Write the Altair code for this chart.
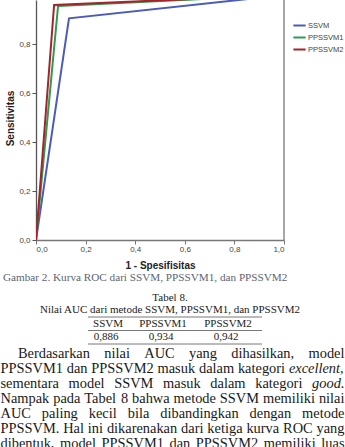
import altair as alt
import pandas as pd

# ---------------- data ----------------
models = ["SSVM", "PPSSVM1", "PPSSVM2"]
fpr_ssvm = [0.0, 0.133, 1.0]
tpr_ssvm = [0.0, 0.905, 1.0]
fpr_pp1 = [0.0, 0.089, 1.0]
tpr_pp1 = [0.0, 0.956, 1.0]
fpr_pp2 = [0.0, 0.073, 1.0]
tpr_pp2 = [0.0, 0.960, 1.0]
colors = ["#4a5bb8", "#2f9a50", "#a3242b"]

x_ticks = [0.0, 0.2, 0.4, 0.6, 0.8, 1.0]
y_ticks = [0.0, 0.2, 0.4, 0.6, 0.8]

caption = "Gambar 2. Kurva ROC dari SSVM, PPSSVM1, dan PPSSVM2"
table_label = "Tabel 8."
table_title = "Nilai AUC dari metode SSVM, PPSSVM1, dan PPSSVM2"
table_headers = ["SSVM", "PPSSVM1", "PPSSVM2"]
table_values = ["0,886", "0,934", "0,942"]
paragraph_lines = [
    "Berdasarkan nilai AUC yang dihasilkan, model",
    "PPSSVM1 dan PPSSVM2 masuk dalam kategori excellent,",
    "sementara model SSVM masuk dalam kategori good.",
    "Nampak pada Tabel 8 bahwa metode SSVM memiliki nilai",
    "AUC paling kecil bila dibandingkan dengan metode",
    "PPSSVM. Hal ini dikarenakan dari ketiga kurva ROC yang",
    "dibentuk, model PPSSVM1 dan PPSSVM2 memiliki luas",
]
italic_words = ["excellent,", "good."]

# ---------------- layout helpers ----------------
OX = 36          # plot origin (absolute px)
PW, PH = 248, 240

# Times / Liberation Serif advance widths (1/1000 em)
TW = dict(zip("abcdefghijklmnopqrstuvwxyz",
              [444, 500, 444, 500, 444, 333, 500, 500, 278, 278, 500, 278, 778,
               500, 500, 500, 500, 333, 389, 278, 500, 500, 722, 500, 500, 444]))
TW.update(dict(zip("ABCDEFGHIJKLMNOPQRSTUVWXYZ",
                   [722, 667, 667, 722, 611, 556, 722, 722, 333, 389, 722, 611, 889,
                    722, 722, 556, 722, 667, 556, 611, 722, 722, 944, 722, 722, 611])))
TW.update({c: 500 for c in "0123456789"})
TW.update({",": 250, ".": 250, " ": 250, "-": 333})


def tw(s, fs):
    return sum(TW.get(c, 500) for c in s) / 1000.0 * fs


PFS = 14.4
rows = []
for i, line in enumerate(paragraph_lines):
    words = line.split()
    left = 18 if i == 0 else 0.5
    right = 344.5
    total = sum(tw(w, PFS) for w in words)
    gap = (right - left - total) / (len(words) - 1)
    x = left
    for w in words:
        rows.append({"word": w, "px": x - OX, "py": 354 + 15 * i,
                     "ital": w in italic_words})
        x += tw(w, PFS) + gap
para_df = pd.DataFrame(rows)

# ---------------- ROC lines ----------------
roc_rows = []
for m, fx, fy in zip(models, [fpr_ssvm, fpr_pp1, fpr_pp2], [tpr_ssvm, tpr_pp1, tpr_pp2]):
    for k, (a, b) in enumerate(zip(fx, fy)):
        roc_rows.append({"model": m, "fpr": a, "tpr": b, "step": k})
roc_df = pd.DataFrame(roc_rows)

label_expr = "replace(format(datum.value, '.1f'), '.', ',')"

lines = alt.Chart(roc_df).mark_line(clip=True, strokeWidth=2).encode(
    x=alt.X("fpr:Q", scale=alt.Scale(domain=[0, 1], nice=False),
            axis=alt.Axis(values=x_ticks, labelExpr=label_expr, title="1 - Spesifisitas",
                          grid=False, tickSize=4, labelPadding=1, labelFontSize=8,
                          labelColor="#444", labelFont="Liberation Sans",
                          domainColor="#777", tickColor="#777", domainWidth=1.3,
                          titleFont="Liberation Sans", titleFontSize=10, titleFontWeight="bold",
                          titleColor="#222", titleX=PW / 2, titleY=25, titleBaseline="middle")),
    y=alt.Y("tpr:Q", scale=alt.Scale(domain=[0, 0.98], nice=False),
            axis=alt.Axis(values=y_ticks, labelExpr=label_expr, title="Sensitivitas",
                          grid=False, tickSize=4, labelPadding=2, labelFontSize=8,
                          labelColor="#444", labelFont="Liberation Sans",
                          domainColor="#555", tickColor="#555", domainWidth=1.3,
                          titleFont="Liberation Sans", titleFontSize=10, titleFontWeight="bold",
                          titleColor="#222", titleX=-26, titleY=118, titleBaseline="middle")),
    color=alt.Color("model:N", scale=alt.Scale(domain=models, range=colors),
                    legend=alt.Legend(title=None, orient="none", legendX=256, legendY=18,
                                      symbolType="stroke", symbolSize=150, symbolStrokeWidth=2,
                                      labelFontSize=7.5, labelColor="#444",
                                      labelFont="Liberation Sans", rowPadding=-4,
                                      labelOffset=1)),
    order=alt.Order("step:Q"),
)

frame = alt.Chart(pd.DataFrame({"side": ["right"]})).mark_rule(
    color="#8a8a8a", strokeWidth=1.5).encode(
    x=alt.value(PW), y=alt.value(0), y2=alt.value(PH))

# caption & table
cap_df = pd.DataFrame({"t": [caption]})
caption_layer = alt.Chart(cap_df).mark_text(
    align="left", baseline="middle", font="Liberation Serif", fontSize=11.2,
    color="#5d6472").encode(text="t:N", x=alt.value(3 - OX), y=alt.value(278))

ttl_df = pd.DataFrame({"t": [table_label, table_title], "py": [298, 310]})
title_layer = alt.Chart(ttl_df).mark_text(
    align="center", baseline="middle", font="Liberation Serif", fontSize=11,
    color="#222").encode(text="t:N", x=alt.value(170 - OX),
                         y=alt.Y("py:Q", scale=None, axis=None))

col_centers = [108, 163, 228]
tab_df = pd.DataFrame({
    "t": table_headers + table_values,
    "px": [c - OX for c in col_centers] + [c - OX - 2 for c in col_centers],
    "py": [324] * 3 + [337] * 3,
})
table_layer = alt.Chart(tab_df).mark_text(
    align="center", baseline="middle", font="Liberation Serif", fontSize=11,
    color="#222").encode(text="t:N", x=alt.X("px:Q", scale=None, axis=None),
                         y=alt.Y("py:Q", scale=None, axis=None))

rule_df = pd.DataFrame({"py": [317, 330.5, 344], "x1": [88 - OX] * 3, "x2": [262 - OX] * 3})
rules_layer = alt.Chart(rule_df).mark_rule(color="#555", strokeWidth=0.8).encode(
    x=alt.X("x1:Q", scale=None, axis=None), x2="x2:Q",
    y=alt.Y("py:Q", scale=None, axis=None))

para_norm = alt.Chart(para_df).transform_filter("!datum.ital").mark_text(
    align="left", baseline="middle", font="Liberation Serif", fontSize=PFS,
    color="#1a1a1a").encode(text="word:N", x=alt.X("px:Q", scale=None, axis=None),
                            y=alt.Y("py:Q", scale=None, axis=None))
para_ital = alt.Chart(para_df).transform_filter("datum.ital").mark_text(
    align="left", baseline="middle", font="Liberation Serif", fontSize=PFS,
    fontStyle="italic", color="#1a1a1a").encode(
    text="word:N", x=alt.X("px:Q", scale=None, axis=None),
    y=alt.Y("py:Q", scale=None, axis=None))

chart = alt.layer(
    lines, frame, caption_layer, title_layer, table_layer, rules_layer, para_norm, para_ital
).resolve_scale(x="independent", y="independent").properties(
    width=PW, height=PH,
    autosize=alt.AutoSizeParams(type="none"),
    padding={"left": OX, "top": 0, "right": 345 - OX - PW, "bottom": 447 - PH},
    background="white",
).configure_view(stroke=None)

chart.save("out.html", embed_options={"renderer": "svg", "actions": False})
